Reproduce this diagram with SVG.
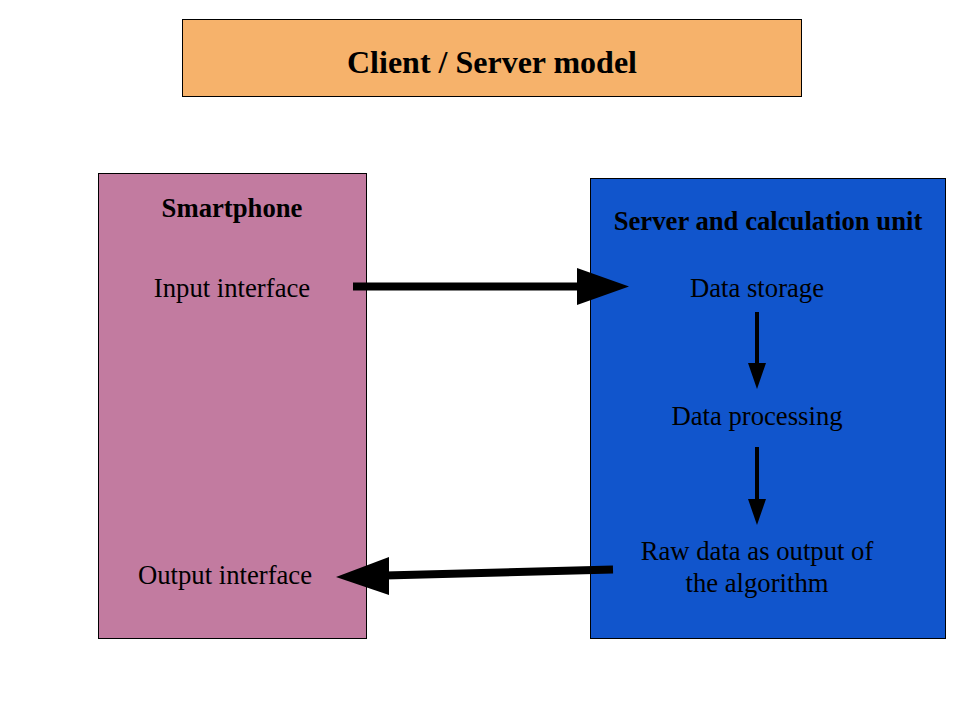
<svg xmlns="http://www.w3.org/2000/svg" width="960" height="720" viewBox="0 0 960 720">
<defs>
<style>
.box{stroke:#000;stroke-width:1}
.t{font-family:"Liberation Serif","Times New Roman",serif;fill:#000;text-anchor:middle;font-size:26.7px}
.b{font-weight:bold}
.ln{stroke:#000;fill:none}
.hd{fill:#000;stroke:none}
</style>
</defs>
<rect width="960" height="720" fill="#fff"/>
<g id="title">
<rect class="box" x="182.5" y="19.5" width="619" height="77" fill="#F6B26B"/>
<text class="t b" x="492" y="73" style="font-size:32px">Client / Server model</text>
</g>
<g id="smartphone">
<rect class="box" x="98.5" y="173.5" width="268" height="465" fill="#C27BA0"/>
<text class="t b" x="232" y="217">Smartphone</text>
<text class="t" x="232" y="297">Input interface</text>
<text class="t" x="225" y="584">Output interface</text>
</g>
<g id="server">
<rect class="box" x="590.5" y="178.5" width="355" height="460" fill="#1155CC"/>
<text class="t b" x="768" y="230">Server and calculation unit</text>
<text class="t" x="757" y="297">Data storage</text>
<text class="t" x="757" y="425">Data processing</text>
<text class="t" x="757" y="560">Raw data as output of</text>
<text class="t" x="757" y="592">the algorithm</text>
</g>
<g id="connectors">
<line class="ln" x1="353" y1="286.5" x2="580" y2="286.5" stroke-width="8"/>
<polygon class="hd" points="577,268 629,286.5 577,305"/>
<line class="ln" x1="613" y1="569.5" x2="385" y2="575.5" stroke-width="8"/>
<polygon class="hd" points="389,557 336,577 389,595"/>
<line class="ln" x1="757" y1="312" x2="757" y2="366" stroke-width="4"/>
<polygon class="hd" points="748,363 766,363 757,389"/>
<line class="ln" x1="757" y1="447" x2="757" y2="502" stroke-width="4"/>
<polygon class="hd" points="748,499 766,499 757,525"/>
</g>
</svg>
